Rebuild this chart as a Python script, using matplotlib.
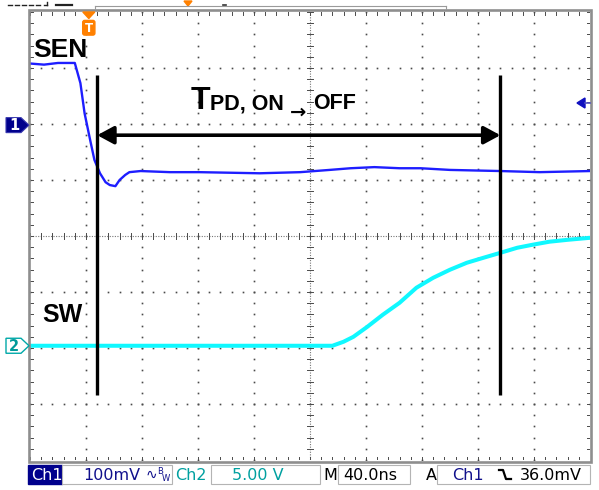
import matplotlib
matplotlib.use('Agg')
import matplotlib.pyplot as plt
import numpy as np
from matplotlib.patches import FancyArrowPatch, Polygon, Rectangle, FancyBboxPatch

# ---------------- data ----------------
time_per_div_ns = 40.0
ch1_mv_per_div = 100.0
ch2_v_per_div = 5.0
ch1_offset_div = 1.98     # ground marker of channel 1 (divisions above centre)
ch2_offset_div = -1.96    # ground marker of channel 2
trigger_t_ns = 42.0

ch1_t_ns = [0, 10, 20, 32, 36, 39, 43, 46, 50, 54, 57, 61, 64, 68, 71, 79, 100, 121, 164,
            193, 214, 229, 246, 264, 279, 300, 336, 364, 400]
ch1_mv = [110, 108, 111, 111, 75, 21, -27, -62, -86, -102, -107, -109, -98, -89, -84, -82,
          -84, -84, -86, -84, -80, -77, -75, -77, -77, -80, -82, -84, -82]

ch2_t_ns = [0, 100, 193, 216, 224, 231, 241, 252, 264, 276, 288, 300, 312, 324,
            336, 348, 359, 371, 384, 400]
ch2_v = [0, 0, 0, 0, 0.36, 0.80, 1.70, 2.77, 3.84, 5.18, 6.07, 6.79, 7.41, 7.86,
         8.30, 8.75, 9.02, 9.29, 9.46, 9.64]

cursor_t_ns = [48, 336]
cursor_span_div = (-2.84, 2.875)
arrow_level_div = 1.80

status_ch1_scale = "100mV"
status_ch2_scale = "5.00 V"
status_timebase = "40.0ns"
status_trig_level = "36.0mV"

# ---------------- figure ----------------
W, H = 599, 490
fig = plt.figure(figsize=(W / 100, H / 100), dpi=100, facecolor='white')

# screen geometry in pixels
X0, X1, Y0, Y1 = 30, 590, 12, 460
DIV = 56.0

ax = fig.add_axes([X0 / W, (H - Y1) / H, (X1 - X0) / W, (Y1 - Y0) / H])
ax.set_xlim(0, 10 * time_per_div_ns)
ax.set_ylim(-4, 4)
ax.axis('off')
ax.set_zorder(1)

ui = fig.add_axes([0, 0, 1, 1])
ui.set_xlim(0, W)
ui.set_ylim(H, 0)
ui.axis('off')
ui.set_zorder(2)
ui.patch.set_visible(False)

tdiv = time_per_div_ns
grid_c = '#4a4a4a'

# dotted graticule
ys = np.arange(-4, 4.001, 0.2)
xs = np.arange(0, 10 * tdiv + 0.01, tdiv / 5)
for k in range(1, 10):
    if k == 5:
        continue
    ax.plot(np.full_like(ys, k * tdiv), ys, ls='', marker='s', ms=1.2, mew=0,
            color=grid_c, zorder=1)
for j in range(-3, 4):
    if j == 0:
        continue
    ax.plot(xs, np.full_like(xs, j), ls='', marker='s', ms=1.2, mew=0,
            color=grid_c, zorder=1)

# centre cross with ticks
ax.plot([5 * tdiv, 5 * tdiv], [-4, 4], color='#777777', lw=0.8, ls=(0, (1, 1.3)), zorder=1)
ax.plot([0, 10 * tdiv], [0, 0], color='#777777', lw=0.8, ls=(0, (1, 1.3)), zorder=1)
tick_y = 3 / DIV
tick_x = 3 / DIV * tdiv
for y in ys:
    ax.plot([5 * tdiv - tick_x, 5 * tdiv + tick_x], [y, y], color=grid_c, lw=0.7, zorder=1)
    ax.plot([0, tick_x], [y, y], color=grid_c, lw=0.7, zorder=1)
    ax.plot([10 * tdiv - tick_x, 10 * tdiv], [y, y], color=grid_c, lw=0.7, zorder=1)
for x in xs:
    ax.plot([x, x], [-tick_y, tick_y], color=grid_c, lw=0.7, zorder=1)
    ax.plot([x, x], [4 - tick_y, 4], color=grid_c, lw=0.7, zorder=1)
    ax.plot([x, x], [-4, -4 + tick_y], color=grid_c, lw=0.7, zorder=1)

# traces
ch2_div = ch2_offset_div + np.array(ch2_v) / ch2_v_per_div
ch1_div = ch1_offset_div + np.array(ch1_mv) / ch1_mv_per_div
ax.plot(ch2_t_ns, ch2_div, color='#10f8ff', lw=2.9, solid_joinstyle='round', zorder=3)
ax.plot(ch1_t_ns, ch1_div, color='#1e1eff', lw=1.7, solid_joinstyle='round', zorder=4)

# cursors and arrow
for t in cursor_t_ns:
    ax.plot([t, t], cursor_span_div, color='black', lw=2.4, solid_capstyle='butt', zorder=5)
arr = FancyArrowPatch((cursor_t_ns[0], arrow_level_div), (cursor_t_ns[1], arrow_level_div),
                      arrowstyle='<|-|>,head_length=10,head_width=5.4', mutation_scale=1,
                      shrinkA=0, shrinkB=0, lw=2.6, color='black', zorder=5)
ax.add_patch(arr)

# screen border
ui.add_patch(Rectangle((28.5, 10.5), 562, 451, fill=False, ec='#8e8e8e', lw=1.9))

# helper: division -> pixel y
def py(div):
    return (Y0 + Y1) / 2 - div * DIV

def px(t):
    return X0 + t / tdiv * DIV

# channel markers
y1 = py(ch1_offset_div)
ui.add_patch(Polygon([(6, y1 - 7.5), (21, y1 - 7.5), (29, y1), (21, y1 + 7.5), (6, y1 + 7.5)],
                     closed=True, fc='#00008c', ec='#3a3ab0', lw=0.8))
ui.text(14, y1 + 0.5, '1', color='white', fontsize=10.5, fontweight='bold',
        ha='center', va='center', family='DejaVu Sans')
y2 = py(ch2_offset_div)
ui.add_patch(Polygon([(6, y2 - 7.5), (21, y2 - 7.5), (29, y2), (21, y2 + 7.5), (6, y2 + 7.5)],
                     closed=True, fc='white', ec='#00a8a8', lw=1.0))
ui.text(14, y2 + 0.5, '2', color='#009a9a', fontsize=10.5, fontweight='bold',
        ha='center', va='center', family='DejaVu Sans')

# trigger level marker at right
ui.add_patch(Polygon([(577, 103), (585, 98), (585, 108)], closed=True, fc='#1010c0', ec='#1010c0'))
ui.plot([585, 590], [103, 103], color='#5050c0', lw=1.2)

# trigger position marker
xt = px(trigger_t_ns)
ui.add_patch(Polygon([(xt - 6, 12), (xt + 6, 12), (xt, 18.5)], closed=True, fc='#ff8000', ec='#ff8000'))
ui.add_patch(FancyBboxPatch((xt - 5.5, 21), 11, 13.5, boxstyle='round,pad=0.6,rounding_size=2',
                            fc='#ff8000', ec='#ff8000'))
ui.text(xt, 28, 'T', color='white', fontsize=8.5, fontweight='bold', ha='center', va='center',
        family='DejaVu Sans')

# top strip remnants
for xa in [8, 15, 22, 29, 36]:
    ui.plot([xa, xa + 4], [5, 5], color='#222222', lw=1.0)
ui.plot([44, 47], [5, 5], color='#222222', lw=1.0)
ui.plot([47, 47], [2, 5], color='#222222', lw=1.0)
ui.plot([56, 72], [5.5, 5.5], color='#222222', lw=1.6)
ui.plot([95, 446], [6.5, 6.5], color='#9a9a9a', lw=0.8)
ui.plot([95, 95], [6.5, 9], color='#9a9a9a', lw=0.8)
ui.plot([446, 446], [6.5, 9], color='#9a9a9a', lw=0.8)
ui.add_patch(Polygon([(184, 1), (192, 1), (188, 6)], closed=True, fc='#ff8000', ec='#ff8000'))
ui.plot([223, 226], [5.5, 5.5], color='#333333', lw=1.2)

# labels
lab = dict(family=['Liberation Sans', 'DejaVu Sans'], fontweight='bold', color='black')
ui.text(33, 57, 'SEN', fontsize=19, va='baseline', ha='left', **lab)
ui.text(42, 322, 'SW', fontsize=18, va='baseline', ha='left', **lab)
ui.text(191, 109, 'T', fontsize=23, va='baseline', ha='left', **lab)
ui.text(210, 109, 'PD, ON', fontsize=15.5, va='baseline', ha='left', **lab)
ui.text(298, 112, '\u2192', fontsize=14, va='center', ha='center',
        family='DejaVu Sans', fontweight='bold', color='black')
ui.text(313, 109, 'OFF', fontsize=15.5, va='baseline', ha='left', **lab)

# status bar
sb_top, sb_h = 465, 19
yc = sb_top + sb_h / 2 + 0.5
navy = '#10108c'
teal = '#00a0a0'
box_ec = '#b4b4b4'
st = dict(family='DejaVu Sans', fontsize=11.5, va='center', ha='left')
ui.add_patch(Rectangle((28, sb_top), 34, sb_h, fc='#00008c', ec='#00008c'))
ui.text(31, yc, 'Ch1', color='white', **st)
ui.add_patch(Rectangle((62, sb_top), 110, sb_h, fc='white', ec=box_ec, lw=0.8))
ui.text(83, yc, status_ch1_scale, color=navy, **st)
ui.text(146, yc, '\u223f', color=navy, family='DejaVu Sans', fontsize=10, va='center', ha='left')
ui.text(157, yc - 4, 'B', color=navy, family='DejaVu Sans', fontsize=6, va='center', ha='left')
ui.text(162, yc + 3, 'W', color=navy, family='DejaVu Sans', fontsize=6, va='center', ha='left')
ui.text(175, yc, 'Ch2', color=teal, **st)
ui.add_patch(Rectangle((211, sb_top), 109, sb_h, fc='white', ec=box_ec, lw=0.8))
ui.text(232, yc, status_ch2_scale, color=teal, **st)
ui.text(323, yc, 'M', color='black', **st)
ui.add_patch(Rectangle((338, sb_top), 72, sb_h, fc='white', ec=box_ec, lw=0.8))
ui.text(343, yc, status_timebase, color='black', **st)
ui.text(426, yc, 'A', color='black', **st)
ui.add_patch(Rectangle((437, sb_top), 153, sb_h, fc='white', ec=box_ec, lw=0.8))
ui.text(452, yc, 'Ch1', color=navy, **st)
ui.plot([499, 503, 506, 511], [470, 470, 479, 479], color='black', lw=1.6)
ui.text(520, yc, status_trig_level, color='black', **st)

fig.savefig('out.png', dpi=100, facecolor='white')
